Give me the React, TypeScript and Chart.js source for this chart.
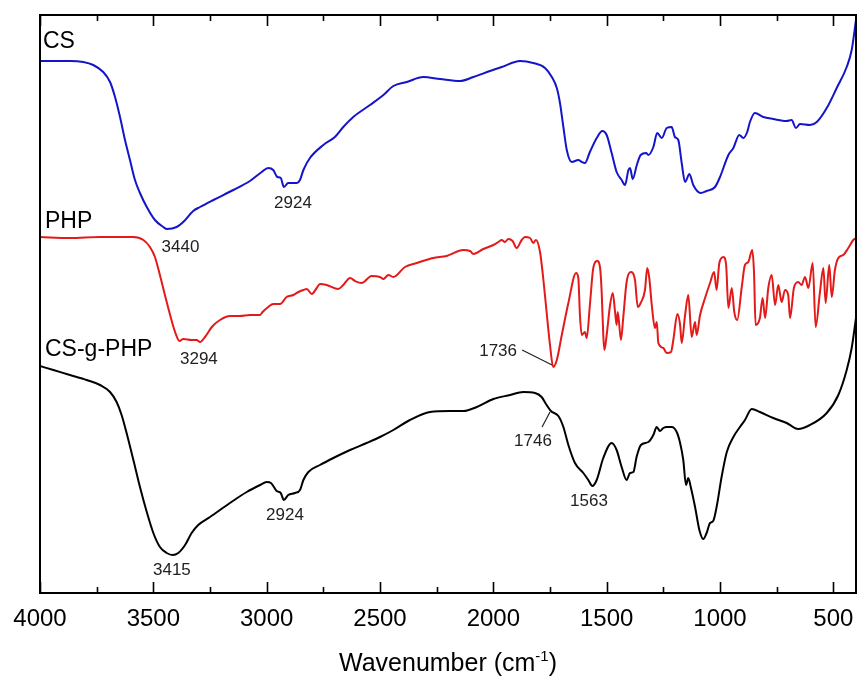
import React, { useEffect, useRef } from 'react';
import { Chart, registerables } from 'chart.js';

Chart.register(...registerables);

// ---------------- DATA ----------------
const csWavenumbers = [4000,3868,3809,3765,3721,3691,3669,3647,3625,3603,3581,3559,3529,3493,3456,3440,3397,3368,3324,3294,3235,3147,3074,3022,2993,2971,2953,2938,2924,2905,2867,2853,2838,2809,2750,2699,2662,2618,2544,2485,2441,2382,2309,2235,2147,2088,2015,1963,1882,1824,1772,1742,1720,1706,1691,1676,1654,1625,1610,1596,1574,1544,1519,1500,1478,1456,1434,1419,1404,1397,1385,1367,1350,1326,1316,1294,1277,1257,1235,1213,1199,1184,1169,1154,1135,1118,1085,1059,1022,1000,963,941,915,897,880,868,846,809,765,706,684,665,647,603,573,529,485,441,419,400];
const csValues = [53.2,53.2,53.1,52.8,52.1,51.1,49.6,47.6,45.3,43.3,41.3,40.0,38.6,37.3,36.6,36.4,36.6,37.1,38.2,38.6,39.3,40.3,41.2,42.1,42.5,42.3,41.6,41.5,40.6,41.0,41.0,41.3,42.3,43.5,44.8,45.6,46.6,47.6,48.8,49.8,50.7,51.1,51.6,51.4,51.2,51.6,52.2,52.6,53.2,53.0,52.5,51.6,50.5,49.0,46.6,44.3,43.1,43.3,43.1,43.0,44.1,45.5,46.2,45.8,44.0,42.1,41.3,40.8,42.3,42.5,41.4,42.8,43.8,44.0,43.8,44.6,46.0,45.5,46.5,46.6,45.6,45.3,43.0,41.1,41.9,40.8,40.0,40.2,40.6,41.6,43.8,44.5,45.8,45.5,46.1,47.1,48.0,47.6,47.4,47.2,47.3,46.5,46.9,46.8,47.1,48.5,50.5,52.6,54.3,57.3];

const phpWavenumbers = [4000,3868,3735,3588,3544,3515,3493,3471,3449,3426,3404,3385,3368,3331,3309,3294,3272,3242,3206,3162,3118,3074,3029,3018,2993,2971,2941,2912,2882,2860,2838,2823,2801,2779,2765,2735,2684,2662,2632,2610,2581,2537,2500,2485,2463,2441,2390,2338,2265,2206,2132,2103,2088,2044,2000,1978,1963,1949,1934,1915,1897,1875,1860,1838,1824,1812,1794,1780,1765,1750,1736,1720,1698,1669,1635,1625,1618,1610,1596,1588,1574,1559,1541,1529,1522,1515,1510,1500,1485,1473,1463,1456,1451,1437,1427,1412,1394,1375,1363,1350,1331,1321,1312,1301,1287,1279,1272,1250,1235,1216,1206,1188,1176,1169,1154,1140,1125,1110,1103,1088,1066,1044,1026,1015,1003,985,973,963,948,937,924,904,890,875,858,850,843,824,812,801,787,772,757,743,728,713,699,691,674,655,640,625,610,591,578,559,544,534,518,507,493,478,456,434,412,400];
const phpValues = [35.6,35.5,35.6,35.6,35.3,34.6,33.6,31.8,29.8,27.8,26.1,25.2,25.4,25.3,25.3,25.1,25.6,26.6,27.3,27.7,27.7,27.8,27.8,28.1,28.6,28.9,28.9,29.6,29.8,30.1,30.3,30.4,29.9,30.5,30.9,30.8,30.4,30.8,31.5,31.2,31.0,31.7,31.6,31.4,31.8,31.6,32.6,33.0,33.5,33.7,34.3,34.2,33.9,34.4,34.8,35.1,35.3,35.1,35.4,35.2,34.5,35.3,35.6,35.5,35.0,35.3,34.1,31.5,28.1,24.8,22.6,23.3,25.8,29.0,32.0,31.5,27.8,25.8,26.1,25.5,28.8,32.5,33.2,32.5,30.1,25.8,24.3,25.8,28.8,30.0,28.1,26.8,28.1,25.3,27.5,31.1,32.1,31.3,28.6,29.0,30.3,32.5,31.5,28.8,26.5,27.1,25.0,24.5,24.0,24.1,25.3,27.9,26.8,25.0,27.8,29.8,25.6,27.1,25.8,27.8,29.5,31.0,32.1,30.3,33.0,33.6,32.8,28.5,30.5,28.1,27.3,30.6,32.8,33.1,34.3,32.1,26.8,27.5,29.5,27.5,30.5,31.8,28.8,30.8,29.1,30.3,29.8,27.5,30.5,31.1,30.8,31.6,30.5,33.0,26.6,30.1,32.5,29.0,32.8,29.6,32.3,33.5,33.8,34.5,35.3,35.5];

const csgphpWavenumbers = [4000,3941,3868,3794,3735,3691,3662,3640,3618,3588,3559,3529,3500,3471,3441,3415,3390,3360,3331,3302,3250,3162,3088,3029,3000,2981,2956,2938,2924,2905,2875,2853,2838,2816,2765,2706,2632,2559,2500,2441,2368,2279,2191,2132,2073,2000,1926,1868,1816,1787,1765,1746,1713,1691,1669,1640,1603,1581,1563,1544,1515,1478,1456,1434,1412,1397,1382,1368,1349,1316,1294,1279,1265,1250,1235,1213,1191,1176,1162,1150,1140,1129,1110,1091,1074,1059,1044,1030,1015,993,970,941,912,890,860,824,765,706,655,603,529,478,441,419,400];
const csgphpValues = [22.7,22.3,21.8,21.3,20.8,20.1,19.1,17.8,16.0,13.3,10.6,8.1,6.0,4.6,4.0,3.8,4.0,4.8,6.0,6.8,7.6,9.0,10.1,10.8,11.1,11.0,10.2,10.0,9.3,9.8,10.0,10.3,11.3,12.1,12.8,13.5,14.3,15.0,15.6,16.3,17.3,18.1,18.2,18.2,18.6,19.4,19.8,20.1,20.0,19.6,18.8,18.2,17.7,16.6,14.8,13.0,12.0,11.3,10.7,11.3,13.5,15.0,14.3,12.6,11.3,12.0,12.1,13.6,14.8,15.1,15.8,16.6,16.2,16.5,16.6,16.6,16.1,15.0,13.3,10.8,11.5,10.6,8.6,6.3,5.4,6.0,7.0,7.2,8.6,11.6,14.1,15.6,16.6,17.3,18.4,18.1,17.5,17.0,16.4,16.8,18.0,19.8,22.3,24.5,27.5];

const xMajorTicks = [4000, 3500, 3000, 2500, 2000, 1500, 1000, 500];
const xMinorTicks = [3750, 3250, 2750, 2250, 1750, 1250, 750];
const xMin = 400;
const xMax = 4000;
const yMin = 0;
const yMax = 57.8;

const seriesNames = ['CS', 'PHP', 'CS-g-PHP'];
const seriesNameX = [3987, 3978, 3978];
const seriesNameY = [55.1, 37.1, 24.3];

const peakText = ['3440', '2924', '3294', '1736', '1746', '2924', '1563', '3415'];
const peakTextX = [3380, 2884, 3299, 1979, 1825, 2919, 1578, 3418];
const peakTextY = [34.6, 39.0, 23.4, 24.2, 15.2, 7.8, 9.2, 2.3];

const leaderFromX = [1873, 1785];
const leaderFromY = [24.3, 16.6];
const leaderToX = [1741, 1750];
const leaderToY = [22.8, 18.1];

const axisTitleMain = 'Wavenumber (cm';
const axisTitleSup = '-1';
const axisTitleEnd = ')';

// ---------------- STYLE ----------------
const FONT = '"Liberation Sans", Arial, Helvetica, sans-serif';
const COLORS = ['#1414c8', '#e31a1a', '#000000'];

function zip(xs: number[], ys: number[]) {
  return xs.map((x, i) => ({ x, y: ys[i] }));
}

const decorPlugin = {
  id: 'decor',
  afterDraw(chart: any) {
    const { ctx, chartArea: a, scales } = chart;
    const xs = scales.x;
    const ys = scales.y;
    ctx.save();
    ctx.strokeStyle = '#000';
    ctx.lineWidth = 2;
    ctx.strokeRect(a.left, a.top, a.right - a.left, a.bottom - a.top);
    ctx.lineWidth = 1.6;
    const drawTick = (v: number, len: number) => {
      const x = Math.round(xs.getPixelForValue(v)) + 0.5;
      ctx.beginPath();
      ctx.moveTo(x, a.bottom);
      ctx.lineTo(x, a.bottom - len);
      ctx.moveTo(x, a.top);
      ctx.lineTo(x, a.top + len);
      ctx.stroke();
    };
    xMajorTicks.forEach((v) => drawTick(v, 11));
    xMinorTicks.forEach((v) => drawTick(v, 6));

    // series names
    ctx.fillStyle = '#000';
    ctx.textBaseline = 'middle';
    ctx.textAlign = 'left';
    ctx.font = `23px ${FONT}`;
    seriesNames.forEach((n, i) => {
      ctx.fillText(n, xs.getPixelForValue(seriesNameX[i]), ys.getPixelForValue(seriesNameY[i]));
    });

    // peak labels
    ctx.fillStyle = '#222';
    ctx.textAlign = 'center';
    ctx.font = `17px ${FONT}`;
    peakText.forEach((t, i) => {
      ctx.fillText(t, xs.getPixelForValue(peakTextX[i]), ys.getPixelForValue(peakTextY[i]));
    });

    // leader lines
    ctx.strokeStyle = '#222';
    ctx.lineWidth = 1.2;
    leaderFromX.forEach((_, i) => {
      ctx.beginPath();
      ctx.moveTo(xs.getPixelForValue(leaderFromX[i]), ys.getPixelForValue(leaderFromY[i]));
      ctx.lineTo(xs.getPixelForValue(leaderToX[i]), ys.getPixelForValue(leaderToY[i]));
      ctx.stroke();
    });

    // axis title with superscript
    ctx.fillStyle = '#000';
    ctx.textAlign = 'left';
    ctx.textBaseline = 'alphabetic';
    const mainFont = `25px ${FONT}`;
    const supFont = `15px ${FONT}`;
    ctx.font = mainFont;
    const w1 = ctx.measureText(axisTitleMain).width;
    const w3 = ctx.measureText(axisTitleEnd).width;
    ctx.font = supFont;
    const w2 = ctx.measureText(axisTitleSup).width;
    const total = w1 + w2 + w3;
    const cx = (a.left + a.right) / 2;
    const baseY = a.bottom + 78;
    let x0 = cx - total / 2;
    ctx.font = mainFont;
    ctx.fillText(axisTitleMain, x0, baseY);
    x0 += w1;
    ctx.font = supFont;
    ctx.fillText(axisTitleSup, x0, baseY - 10);
    x0 += w2;
    ctx.font = mainFont;
    ctx.fillText(axisTitleEnd, x0, baseY);
    ctx.restore();
  },
};

export default function App() {
  const canvasRef = useRef<HTMLCanvasElement | null>(null);

  useEffect(() => {
    document.body.style.margin = '0';
    const canvas = canvasRef.current;
    if (!canvas) return;
    const chart = new Chart(canvas, {
      type: 'line',
      data: {
        datasets: [
          { label: seriesNames[0], data: zip(csWavenumbers, csValues), borderColor: COLORS[0] },
          { label: seriesNames[1], data: zip(phpWavenumbers, phpValues), borderColor: COLORS[1] },
          { label: seriesNames[2], data: zip(csgphpWavenumbers, csgphpValues), borderColor: COLORS[2] },
        ],
      },
      options: {
        animation: false,
        responsive: false,
        maintainAspectRatio: false,
        layout: { padding: { left: 40, right: 1, top: 15, bottom: 46 } },
        plugins: { legend: { display: false }, tooltip: { enabled: false } },
        elements: {
          point: { radius: 0, hoverRadius: 0 },
          line: { borderWidth: 2, cubicInterpolationMode: 'monotone', fill: false, borderJoinStyle: 'round' },
        },
        scales: {
          x: {
            type: 'linear',
            reverse: true,
            min: xMin,
            max: xMax,
            grid: { display: false, drawTicks: false },
            border: { display: false },
            afterBuildTicks: (s: any) => {
              s.ticks = xMajorTicks.map((value) => ({ value }));
            },
            afterFit: (s: any) => {
              s.height = 40;
              s.paddingLeft = 0;
              s.paddingRight = 0;
            },
            ticks: {
              autoSkip: false,
              maxRotation: 0,
              padding: 12,
              color: '#000',
              font: { family: FONT, size: 24 },
              callback: (v: any) => String(v),
            },
          },
          y: { display: false, min: yMin, max: yMax },
        },
      },
      plugins: [decorPlugin],
    } as any);
    return () => chart.destroy();
  }, []);

  return (
    <div style={{ width: 857, height: 679 }}>
      <canvas ref={canvasRef} width={857} height={679} style={{ display: 'block' }} />
    </div>
  );
}
